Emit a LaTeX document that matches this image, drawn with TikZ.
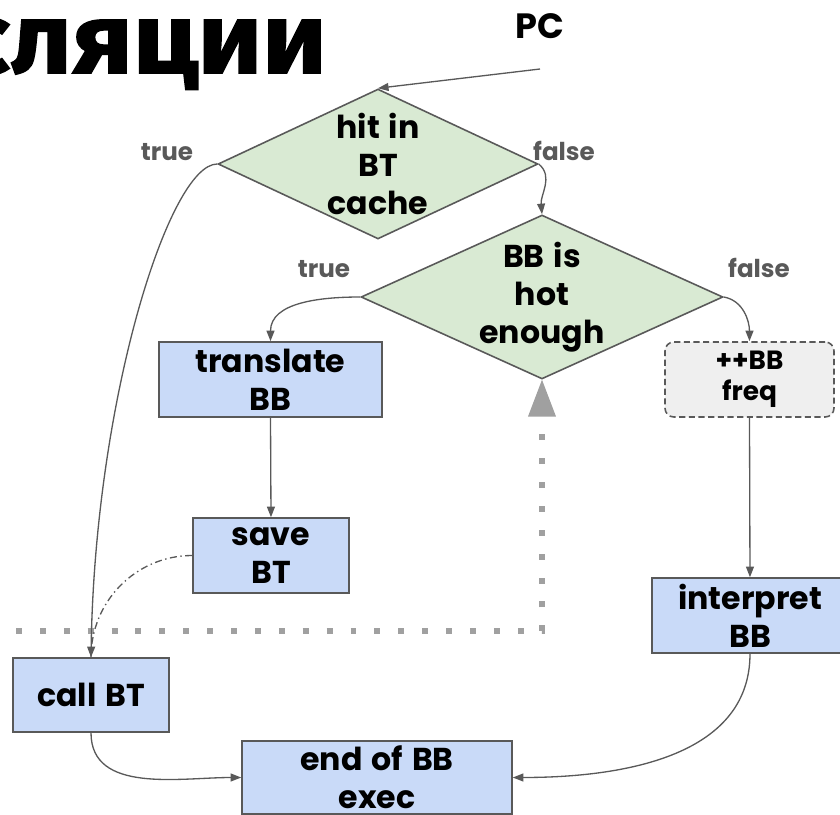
\documentclass[tikz,border=0pt]{standalone}
\usepackage{fontspec}
\setmainfont{Poppins}[WordSpace=1.35]
\newfontfamily\titlefont{Fira Sans}[BoldFeatures={FakeBold=1.5}]
\usepackage{tikz}
\usetikzlibrary{arrows.meta, shapes.geometric}

\definecolor{boxblue}{HTML}{C9DAF8}
\definecolor{boxgreen}{HTML}{D9EAD3}
\definecolor{boxgrey}{HTML}{EFEFEF}
\definecolor{linegrey}{HTML}{595959}
\definecolor{dotgrey}{HTML}{A0A0A0}

\tikzset{
  block/.style={rectangle, draw=linegrey, line width=0.9pt, fill=boxblue, inner sep=0pt},
  decision/.style={diamond, draw=linegrey, line width=0.9pt, fill=boxgreen, inner sep=-3pt, shape aspect=2.2},
  flow/.style={draw=linegrey, line width=0.75pt, -{Triangle[length=6pt,width=4.5pt]}},
  branch/.style={anchor=base, text=linegrey, font=\bfseries\fontsize{14}{16}\selectfont}
}

\begin{document}
\begin{tikzpicture}[x=0.02cm, y=-0.02cm,
  every node/.style={font=\bfseries\fontsize{18}{21.5}\selectfont, align=center}]

	\useasboundingbox (0,0) rectangle (840,815);

	% slide text cut off at the left
	\node[anchor=base east, font=\titlefont\bfseries\fontsize{57}{60}\selectfont] (title) at (333,73) {\scalebox{1.09}[1]{сляции}};
	\node[anchor=base east, text=linegrey, font=\fontsize{21}{24}\selectfont] (cut) at (6,283) {n};

	\coordinate (pcfoot) at (540,69);
	\coordinate (dotstart) at (16,631);

	\node[anchor=base, font=\bfseries\fontsize{20}{22}\selectfont] (pc) at (540,38) {PC};

	\node[decision, minimum width=6.4cm, minimum height=3cm] (hit) at (378,164) {hit in\\BT\\cache};
	\node[decision, minimum width=7.24cm, minimum height=3.28cm] (hot) at (542,297) {BB is\\hot\\enough};

	\node[block, minimum width=4.46cm, minimum height=1.5cm] (translate) at (270.5,379.5) {translate\\BB};
	\node[block, dash pattern=on 3.5pt off 2pt, rounded corners=5pt, fill=boxgrey,
	      minimum width=3.38cm, minimum height=1.5cm,
	      font=\bfseries\fontsize{15}{17.5}\selectfont] (freq) at (749.5,379.5) {++BB\\freq};
	\node[block, minimum width=3.12cm, minimum height=1.5cm] (save) at (271,555.5) {save\\BT};
	\node[block, minimum width=3.12cm, minimum height=1.48cm] (call) at (91,695) {call BT};
	\node[block, minimum width=3.92cm, minimum height=1.5cm] (interp) at (750,615.5) {interpret\\BB};
	\node[block, minimum width=5.4cm, minimum height=1.46cm] (end) at (377,777.5) {end of BB\\exec};

	\node[branch] (hittrue) at (167,160) {true};
	\node[branch] (hitfalse) at (564,160) {false};
	\node[branch] (hottrue) at (324,277) {true};
	\node[branch] (hotfalse) at (759,277) {false};

	% hot path back to the check
	\draw[dotgrey, line width=3.4pt, dash pattern=on 3.4pt off 10.2pt,
	      -{Triangle[length=21pt,width=16pt,line width=0pt]}] (dotstart) -| (hot.south);

	\draw[flow] (pcfoot) -- (hit.north);
	\draw[flow] (hit.east) to[out=-40, in=95] (hot.north);
	\draw[flow] (hit.west) .. controls +(-48,0) and +(4,-258) .. (call.north);
	\draw[flow] (hot.west) to[out=180, in=90] (translate.north);
	\draw[flow] (hot.east) to[out=-10, in=90] (freq.north);
	\draw[flow] (translate.south) -- (save.north);
	\draw[flow] (freq.south) -- (interp.north);
	\draw[flow] (call.south) to[out=-90, in=180] (end.west);
	\draw[flow] (interp.south) to[out=-90, in=0] (end.east);
	\draw[linegrey, line width=0.75pt, dash pattern=on 4pt off 2pt on 0.8pt off 2pt] (save.west) to[out=180, in=90] (call.north);
\end{tikzpicture}
\end{document}
